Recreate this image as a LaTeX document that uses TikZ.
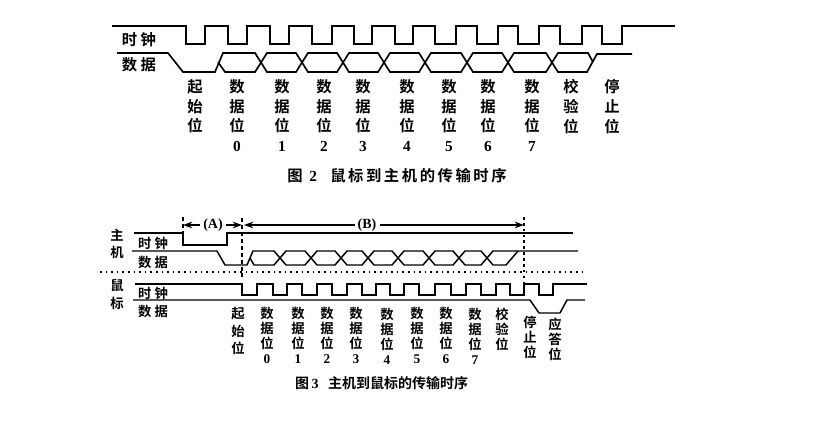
\documentclass[tikz,border=0pt]{standalone}
\usepackage{fontspec}
\setmainfont{Liberation Serif}
\newfontfamily\cjk[BoldFont={Noto Sans CJK SC Bold}]{Noto Sans CJK SC}
\usetikzlibrary{arrows.meta}
\tikzset{every picture/.style={line width=0.75pt}}
\tikzset{
  wave/.style={line width=1.25pt,line join=miter},
  thinwave/.style={line width=1.1pt,line join=miter},
  bigstack/.style={align=center,inner sep=0pt,font=\cjk\bfseries\fontsize{11.5}{14.8}\selectfont},
  smallstack/.style={align=center,inner sep=0pt,font=\cjk\bfseries\fontsize{10}{11.2}\selectfont},
  bigname/.style={inner sep=0pt,font=\cjk\bfseries\fontsize{11.5}{14}\selectfont},
  smallname/.style={inner sep=0pt,font=\cjk\bfseries\fontsize{10}{12}\selectfont},
  guide/.style={line width=1pt,dash pattern=on 3pt off 2.2pt},
  spanarrow/.style={line width=0.9pt,-{Stealth[length=7pt,width=5pt]}}
}

\begin{document}
\begin{tikzpicture}[x=0.75pt,y=0.75pt,yscale=-1,xscale=1]
\useasboundingbox (0,0) rectangle (840,445);

%Straight Lines: upper clock
\draw[wave] (112,26) -- (186,26) -- (186,44) -- (205,44) -- (205,26) -- (228,26) -- (228,44) -- (247,44) -- (247,26) -- (270,26) -- (270,44) -- (289,44) -- (289,26) -- (312,26) -- (312,44) -- (332,44) -- (332,26) -- (354,26) -- (354,44) -- (372,44) -- (372,26) -- (395,26) -- (395,44) -- (413,44) -- (413,26) -- (435,26) -- (435,44) -- (456,44) -- (456,26) -- (477,26) -- (477,44) -- (498,44) -- (498,26) -- (518,26) -- (518,44) -- (539,44) -- (539,26) -- (560,26) -- (560,44) -- (582,44) -- (582,26) -- (602,26) -- (602,44) -- (622,44) -- (622,26) -- (675,26) ;
%Straight Lines: upper data
\draw[wave] (117,53) -- (168,53) -- (183,72) -- (215,72) -- (223,53) -- (255,53) -- (267,72) -- (296,72) -- (308,53) -- (337,53) -- (349,72) -- (378,72) -- (390,53) -- (419,53) -- (431,72) -- (461,72) -- (473,53) -- (502,53) -- (514,72) -- (546,72) -- (558,53) -- (588,53) -- (593,62) ;
\draw[wave] (218,62) -- (225,72) -- (255,72) -- (267,53) -- (296,53) -- (308,72) -- (337,72) -- (349,53) -- (378,53) -- (390,72) -- (419,72) -- (431,53) -- (461,53) -- (473,72) -- (502,72) -- (514,53) -- (546,53) -- (558,72) -- (587,72) -- (597,54) -- (632,54) ;

% Text Node
\draw (139,40) node [bigname] (clockTop) {时 钟};
\draw (139,65) node [bigname] (dataTop) {数 据};
\draw (195,79) node [bigstack,anchor=north] (startTop) {起\\始\\位};
\draw (237,79) node [bigstack,anchor=north] (bitTop0) {数\\据\\位\\\rmfamily\bfseries 0};
\draw (282,79) node [bigstack,anchor=north] (bitTop1) {数\\据\\位\\\rmfamily\bfseries 1};
\draw (324,79) node [bigstack,anchor=north] (bitTop2) {数\\据\\位\\\rmfamily\bfseries 2};
\draw (363,79) node [bigstack,anchor=north] (bitTop3) {数\\据\\位\\\rmfamily\bfseries 3};
\draw (407,79) node [bigstack,anchor=north] (bitTop4) {数\\据\\位\\\rmfamily\bfseries 4};
\draw (449,79) node [bigstack,anchor=north] (bitTop5) {数\\据\\位\\\rmfamily\bfseries 5};
\draw (488,79) node [bigstack,anchor=north] (bitTop6) {数\\据\\位\\\rmfamily\bfseries 6};
\draw (532,79) node [bigstack,anchor=north] (bitTop7) {数\\据\\位\\\rmfamily\bfseries 7};
\draw (571,79) node [bigstack,anchor=north] (parityTop) {校\\验\\位};
\draw (612,79) node [bigstack,anchor=north] (stopTop) {停\\止\\位};
\draw (397,176) node [inner sep=0pt,font=\cjk\bfseries\fontsize{11.5}{12}\selectfont] (captionTop) {图\hspace{5pt}{\rmfamily\bfseries 2}\hspace{10pt}鼠\,标\,到\,主\,机\,的\,传\,输\,时\,序};

%Straight Lines: host clock
\draw[thinwave] (134,233) -- (183,233) -- (183,245) -- (227,245) -- (227,233) -- (573,233) ;
%Straight Lines: host data
\draw[thinwave] (132,251) -- (217,251) -- (225,265) -- (247,265) -- (253,251) -- (274,251) -- (286,265) -- (305,265) -- (317,251) -- (335,251) -- (347,265) -- (362,265) -- (374,251) -- (392,251) -- (404,265) -- (423,265) -- (435,251) -- (453,251) -- (465,265) -- (481,265) -- (493,251) -- (578,251) ;
\draw[thinwave] (250,258) -- (254,265) -- (274,265) -- (286,251) -- (305,251) -- (317,265) -- (335,265) -- (347,251) -- (362,251) -- (374,265) -- (392,265) -- (404,251) -- (423,251) -- (435,265) -- (453,265) -- (465,251) -- (481,251) -- (493,265) -- (506,265) -- (518,251) ;
%Straight Lines: separator
\draw[line width=0.9pt,dash pattern=on 1.2pt off 3pt] (100,272) -- (582,272) ;
%Straight Lines: mouse clock
\draw[thinwave] (135,284) -- (242,284) -- (242,295) -- (257,295) -- (257,284) -- (273,284) -- (273,295) -- (287,295) -- (287,284) -- (302,284) -- (302,295) -- (317,295) -- (317,284) -- (332,284) -- (332,295) -- (347,295) -- (347,284) -- (362,284) -- (362,295) -- (376,295) -- (376,284) -- (390,284) -- (390,295) -- (404,295) -- (404,284) -- (419,284) -- (419,295) -- (435,295) -- (435,284) -- (451,284) -- (451,295) -- (466,295) -- (466,284) -- (481,284) -- (481,295) -- (496,295) -- (496,284) -- (510,284) -- (510,295) -- (524,295) -- (524,284) -- (539,284) -- (539,295) -- (553,295) -- (553,284) -- (587,284) ;
%Straight Lines: mouse data
\draw[thinwave] (133,300) -- (530,300) -- (539,313) -- (560,313) -- (567,300) -- (585,300) ;

%Straight Lines: guides
\draw[guide] (183,217) -- (183,233) ;
\draw[guide] (242,218) -- (242,277) ;
\draw[line width=0.9pt,dash pattern=on 2pt off 2.4pt] (524,217) -- (524,283) ;
\coordinate (leftA) at (183,225);
\coordinate (rightA) at (242,225);
\coordinate (leftB) at (244,225);
\coordinate (rightB) at (524,225);

% Text Node
\draw (213,225) node [inner sep=2pt,font=\bfseries\fontsize{10.5}{11}\selectfont] (labelA) {(A)};
\draw (367,225) node [inner sep=2pt,font=\bfseries\fontsize{10.5}{11}\selectfont] (labelB) {(B)};
\draw[spanarrow] (labelA) -- (leftA) ;
\draw[spanarrow] (labelA) -- (rightA) ;
\draw[spanarrow] (labelB) -- (leftB) ;
\draw[spanarrow] (labelB) -- (rightB) ;

% Text Node
\draw (117,235) node [smallname] (hostA) {主};
\draw (117,252) node [smallname] (hostB) {机};
\draw (117,285) node [smallname] (mouseA) {鼠};
\draw (117,303) node [smallname] (mouseB) {标};
\draw (153,243) node [smallname] (clockHost) {时 钟};
\draw (153,262) node [smallname] (dataHost) {数 据};
\draw (153,293) node [smallname] (clockMouse) {时 钟};
\draw (153,311) node [smallname] (dataMouse) {数 据};
\draw (238,307) node [smallstack,anchor=north,font=\cjk\bfseries\fontsize{10}{13}\selectfont] (startLow) {起\\始\\位};
\draw (267,307) node [smallstack,anchor=north] (bitLow0) {数\\据\\位\\\rmfamily 0};
\draw (298,307) node [smallstack,anchor=north] (bitLow1) {数\\据\\位\\\rmfamily 1};
\draw (327,307) node [smallstack,anchor=north] (bitLow2) {数\\据\\位\\\rmfamily 2};
\draw (356,307) node [smallstack,anchor=north] (bitLow3) {数\\据\\位\\\rmfamily 3};
\draw (387,308) node [smallstack,anchor=north] (bitLow4) {数\\据\\位\\\rmfamily 4};
\draw (417,307) node [smallstack,anchor=north] (bitLow5) {数\\据\\位\\\rmfamily 5};
\draw (446,307) node [smallstack,anchor=north] (bitLow6) {数\\据\\位\\\rmfamily 6};
\draw (475,308) node [smallstack,anchor=north] (bitLow7) {数\\据\\位\\\rmfamily 7};
\draw (502,308) node [smallstack,anchor=north] (parityLow) {校\\验\\位};
\draw (530,316) node [smallstack,anchor=north] (stopLow) {停\\止\\位};
\draw (555,318) node [smallstack,anchor=north] (ackLow) {应\\答\\位};
\draw (381.5,383) node [inner sep=0pt,font=\cjk\bfseries\fontsize{10.5}{11}\selectfont] (captionLow) {图\hspace{2pt}{\rmfamily\bfseries 3}\hspace{7pt}主机到鼠标的传输时序};

\end{tikzpicture}
\end{document}
